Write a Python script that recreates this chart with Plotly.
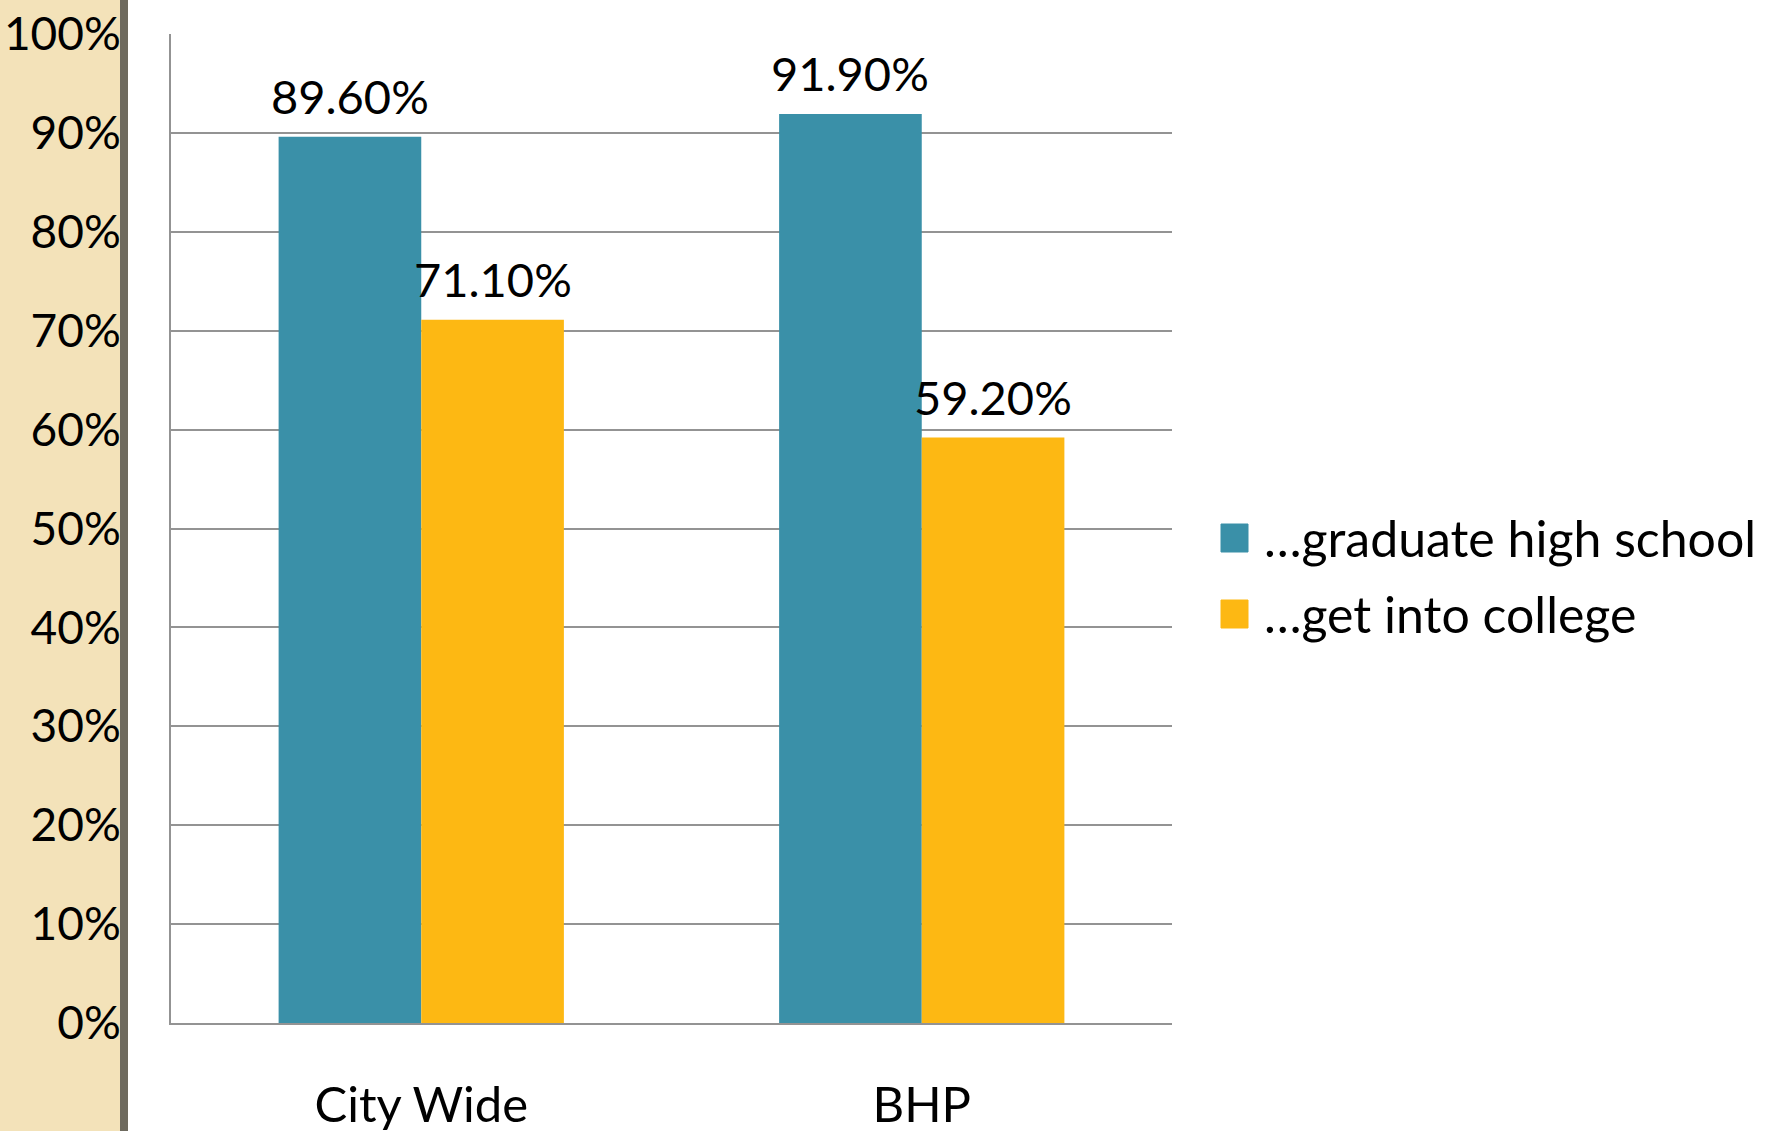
import plotly.graph_objects as go

categories = ["City Wide", "BHP"]
series_names = ["…graduate high school", "…get into college"]
graduate = [89.6, 91.9]
college = [71.1, 59.2]
colors = ["#3A90A8", "#FDB813"]
tick_vals = [0, 10, 20, 30, 40, 50, 60, 70, 80, 90, 100]
tick_text = [f"{v}%" for v in tick_vals]

W, H = 1766, 1131
L, R, T, B = 171, 1172, 34, 1023
pw, ph = R - L, B - T

FONT = "Lato, 'Gill Sans', sans-serif"
BARGAP = 0.43
half_bar = pw / len(categories) * (1 - BARGAP) / 4  # half width of one bar in px

fig = go.Figure()
for i, (name, vals, col) in enumerate(zip(series_names, [graduate, college], colors)):
    fig.add_trace(go.Bar(
        x=categories, y=vals, name=name, marker_color=col,
        marker_line_width=0, showlegend=False,
    ))
    shift = -half_bar if i == 0 else half_bar
    for c, v in zip(categories, vals):
        fig.add_annotation(x=c, y=v, xref="x", yref="y", text=f"{v:.2f}%",
                           showarrow=False, xshift=shift, yshift=11,
                           yanchor="bottom", xanchor="center",
                           font=dict(size=47, color="black", family=FONT))
    # manual legend (square + label)
    yc = [538, 614][i]
    fig.add_shape(type="rect", xref="paper", yref="paper",
                  x0=(1221 - L) / pw, x1=(1248 - L) / pw,
                  y0=(B - (yc + 14)) / ph, y1=(B - (yc - 14)) / ph,
                  fillcolor=col, line=dict(color=col, width=1))
    fig.add_annotation(xref="paper", yref="paper", x=(1262 - L) / pw, y=(B - yc) / ph,
                       text=name, showarrow=False, xanchor="left", yanchor="middle",
                       font=dict(size=50, color="black", family=FONT))

# beige strip and dark border on the left
fig.add_shape(type="rect", xref="paper", yref="paper",
              x0=-L / pw - 0.01, x1=(120 - L) / pw, y0=-(H - B) / ph - 0.01, y1=1 + T / ph + 0.01,
              fillcolor="#F3E2B9", line_width=0, layer="below")
fig.add_shape(type="rect", xref="paper", yref="paper",
              x0=(120 - L) / pw, x1=(128 - L) / pw, y0=-(H - B) / ph - 0.01, y1=1 + T / ph + 0.01,
              fillcolor="#6E6A5E", line_width=0, layer="below")

fig.update_layout(
    width=W, height=H,
    margin=dict(l=L, r=W - R, t=T, b=H - B, pad=0, autoexpand=False),
    paper_bgcolor="white", plot_bgcolor="white",
    barmode="group", bargap=BARGAP, bargroupgap=0,
    font=dict(family=FONT, size=46, color="black"),
    showlegend=False,
)
fig.update_yaxes(range=[0, 100], tickvals=tick_vals, ticktext=tick_text,
                 showgrid=True, gridcolor="#939393", gridwidth=2,
                 showline=True, linecolor="#939393", linewidth=2,
                 ticks="", ticklabelstandoff=39, zeroline=False, automargin=False,
                 tickfont=dict(size=46, family=FONT))
fig.update_xaxes(showline=True, linecolor="#939393", linewidth=2,
                 ticks="", ticklabelstandoff=38, automargin=False,
                 tickfont=dict(size=49, family=FONT))

fig.write_html("out.html", config={"displayModeBar": False},
               post_script="document.body.style.margin='0';document.body.style.overflow='hidden';")
